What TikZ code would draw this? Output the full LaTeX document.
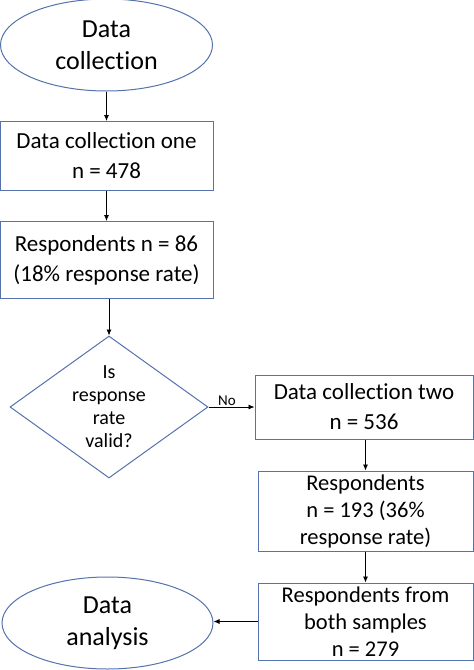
\documentclass[tikz,border=0pt]{standalone}
\usepackage{fontspec}
\setmainfont{Carlito}[Ligatures=NoCommon]
\usetikzlibrary{shapes.geometric,arrows.meta}
\definecolor{steelframe}{RGB}{84,115,172}
\begin{document}
\begin{tikzpicture}[x=1pt,y=-1pt]
  % Colors
  \colorlet{framecolor}{steelframe}

  % Styles
  \tikzstyle{every node}=[font=\fontsize{23}{30}\selectfont,align=center,inner sep=0pt]
  \tikzstyle{terminal}=[ellipse,draw=framecolor,line width=1pt,fill=white,
    font=\fontsize{26}{32}\selectfont]
  \tikzstyle{process box}=[rectangle,draw=framecolor,line width=1pt,fill=white]
  \tikzstyle{decision}=[diamond,draw=framecolor,line width=1pt,aspect=1.39,
    minimum width=198pt,minimum height=142pt,font=\fontsize{20}{23}\selectfont]
  \tikzstyle{flow line}=[-{Latex[length=6pt,width=5pt]},line width=0.8pt]

  \useasboundingbox (0,0) rectangle (474,670);

  % The graphic
  \node[terminal,minimum width=212pt,minimum height=92pt] (collection) at (106.5,45)
    {Data\\collection};
  \node[process box,minimum width=213pt,minimum height=69pt] (one) at (106.5,156)
    {Data collection one\\n = 478};
  \node[process box,minimum width=213pt,minimum height=77pt] (resp) at (106.5,260)
    {Respondents n = 86\\(18\% response rate)};
  \node[decision] (valid) at (109,407)
    {Is\\response\\rate\\valid?};
  \node[process box,minimum width=218pt,minimum height=64pt] (two) at (364,407)
    {Data collection two\\n = 536};
  \node[process box,minimum width=215pt,minimum height=80pt,
    font=\fontsize{22.5}{27}\selectfont] (resptwo) at (365.5,511)
    {Respondents\\n = 193 (36\%\\response rate)};
  \node[process box,minimum width=215pt,minimum height=77pt,
    font=\fontsize{22.5}{27}\selectfont] (both) at (365.5,621.5)
    {Respondents from\\both samples\\n = 279};
  \node[terminal,minimum width=211pt,minimum height=92pt] (analysis) at (107.5,623)
    {Data\\analysis};

  % Connectors
  \draw[flow line] (collection) -- (one);
  \draw[flow line] (one) -- (resp);
  \draw[flow line] (valid.north |- resp.south) -- (valid.north);
  \draw[flow line] (valid.east) -- node[above=1pt,pos=0.4,font=\fontsize{15}{17}\selectfont] {No}
    (valid.east -| two.west);
  \draw[flow line] (two.south -| resptwo.north) -- (resptwo.north);
  \draw[flow line] (resptwo) -- (both);
  \draw[flow line] (both.west) -- (both.west -| analysis.east);
\end{tikzpicture}
\end{document}
